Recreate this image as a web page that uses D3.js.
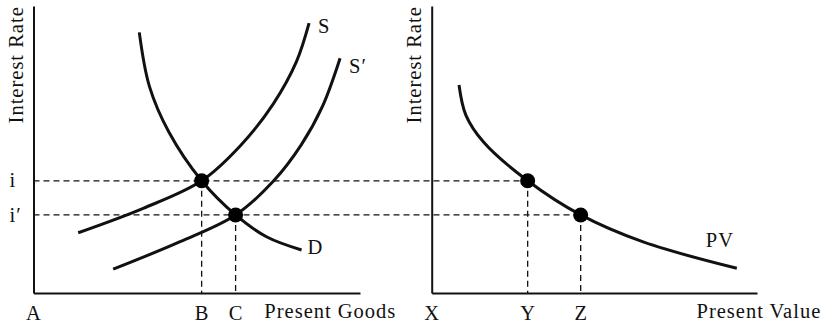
<!DOCTYPE html>
<html>
<head>
<meta charset="utf-8">
<title>Interest rate and present value</title>
<script src="https://cdn.jsdelivr.net/npm/d3@7"></script>
<style>
  body { margin: 0; background: #fff; }
  text { font-family: "Liberation Serif", "Times New Roman", serif; font-size: 20.5px; letter-spacing: 1px; fill: #111; }
</style>
</head>
<body>
<script>
// Rates (share of axis height, 0-100)
var rateI = 39.1;
var rateI2 = 27.2;

// Quantities on the left chart (0-100)
var goodsB = 51.5;
var goodsC = 61.9;

// Quantities on the right chart (0-100)
var valueY = 29.5;
var valueZ = 45.8;

// Curves as [quantity, rate]
var demand = [[32.4, 90.8], [35.5, 72.0], [41.5, 56.0], [51.5, 39.1], [61.9, 27.2], [71.5, 19.5], [82.1, 15.0]];
var supply = [[13.7, 21.0], [33.6, 29.5], [51.5, 39.1], [63.5, 51.5], [73.5, 66.0], [80.5, 80.5], [84.4, 94.0]];
var supply2 = [[24.4, 8.3], [44.9, 17.9], [61.9, 27.2], [73.5, 39.0], [82.0, 51.6], [88.5, 65.0], [93.9, 81.8]];
var presentValue = [[8.4, 72.5], [10.5, 62.0], [16.0, 52.5], [29.5, 39.1], [45.8, 27.2], [65.0, 17.8], [93.8, 8.6]];

var leftTicks = ["A", "B", "C"];
var rightTicks = ["X", "Y", "Z"];
var rateTicks = ["i", "i\u2032"];

var w = 829;
var h = 327;

var svg = d3.select("body").append("svg")
    .attr("width", w)
    .attr("height", h);

var xL = d3.scaleLinear().domain([0, 100]).range([33.5, 360]);
var xR = d3.scaleLinear().domain([0, 100]).range([431.7, 757]);
var y = d3.scaleLinear().domain([0, 100]).range([293, 6]);

// dashed guide lines, drawn first so the curves sit on top
var dash = svg.append("g")
    .attr("fill", "none")
    .attr("stroke", "#111")
    .attr("stroke-width", 1.3)
    .attr("stroke-dasharray", "6,4");

dash.append("line").attr("x1", xL(0)).attr("x2", xR(valueY)).attr("y1", y(rateI)).attr("y2", y(rateI));
dash.append("line").attr("x1", xL(0)).attr("x2", xR(valueZ)).attr("y1", y(rateI2)).attr("y2", y(rateI2));
dash.append("line").attr("x1", xL(goodsB)).attr("x2", xL(goodsB)).attr("y1", y(rateI)).attr("y2", y(0));
dash.append("line").attr("x1", xL(goodsC)).attr("x2", xL(goodsC)).attr("y1", y(rateI2)).attr("y2", y(0));
dash.append("line").attr("x1", xR(valueY)).attr("x2", xR(valueY)).attr("y1", y(rateI)).attr("y2", y(0));
dash.append("line").attr("x1", xR(valueZ)).attr("x2", xR(valueZ)).attr("y1", y(rateI2)).attr("y2", y(0));

// axes
function styleAxis(g) {
  g.select(".domain").attr("stroke", "#111").attr("stroke-width", 2);
  g.selectAll(".tick line").remove();
  g.selectAll(".tick text").attr("font-family", null).attr("font-size", null);
}

svg.append("g")
    .attr("transform", "translate(0," + y(0) + ")")
    .call(d3.axisBottom(xL).tickValues([0, goodsB, goodsC]).tickSize(0).tickSizeOuter(0)
      .tickPadding(12).tickFormat((d, i) => leftTicks[i]))
    .call(styleAxis);

svg.append("g")
    .attr("transform", "translate(0," + y(0) + ")")
    .call(d3.axisBottom(xR).tickValues([0, valueY, valueZ]).tickSize(0).tickSizeOuter(0)
      .tickPadding(12).tickFormat((d, i) => rightTicks[i]))
    .call(styleAxis);

svg.append("g")
    .attr("transform", "translate(" + xL(0) + ",0)")
    .call(d3.axisLeft(y).tickValues([rateI, rateI2]).tickSize(0).tickSizeOuter(0)
      .tickFormat((d, i) => rateTicks[i]))
    .call(styleAxis)
    .selectAll(".tick text")
    .attr("text-anchor", "start")
    .attr("x", -24)
    .attr("dy", "0.3em");

svg.append("g")
    .attr("transform", "translate(" + xR(0) + ",0)")
    .call(d3.axisLeft(y).tickValues([]).tickSizeOuter(0))
    .call(styleAxis);

// axis titles
svg.append("text").attr("x", xL(70.7)).attr("y", y(0) + 25).text("Present Goods");
svg.append("text").attr("x", xR(81.4)).attr("y", y(0) + 25).text("Present Value");
svg.append("text")
    .attr("transform", "translate(" + (xL(0) - 11) + "," + y(79.5) + ") rotate(-90)")
    .attr("text-anchor", "middle")
    .text("Interest Rate");
svg.append("text")
    .attr("transform", "translate(" + (xR(0) - 11) + "," + y(79.5) + ") rotate(-90)")
    .attr("text-anchor", "middle")
    .text("Interest Rate");

// curves
var lineL = d3.line().x(d => xL(d[0])).y(d => y(d[1])).curve(d3.curveCatmullRom.alpha(0.5));
var lineR = d3.line().x(d => xR(d[0])).y(d => y(d[1])).curve(d3.curveCatmullRom.alpha(0.5));

var curves = [
  {pts: demand, line: lineL, x: xL, label: "D", dx: 6, dy: 4},
  {pts: supply, line: lineL, x: xL, label: "S", dx: 9, dy: 10},
  {pts: supply2, line: lineL, x: xL, label: "S\u2032", dx: 9, dy: 15},
  {pts: presentValue, line: lineR, x: xR, label: "PV", dx: -31, dy: -21}
];

curves.forEach(function(c) {
  svg.append("path")
      .attr("d", c.line(c.pts))
      .attr("fill", "none")
      .attr("stroke", "#111")
      .attr("stroke-width", 3);
  var last = c.pts[c.pts.length - 1];
  svg.append("text")
      .attr("x", c.x(last[0]) + c.dx)
      .attr("y", y(last[1]) + c.dy)
      .text(c.label);
});

// equilibrium points
var dots = [[xL, goodsB, rateI], [xL, goodsC, rateI2], [xR, valueY, rateI], [xR, valueZ, rateI2]];
svg.selectAll(".dot").data(dots).enter().append("circle")
    .attr("class", "dot")
    .attr("cx", d => d[0](d[1]))
    .attr("cy", d => y(d[2]))
    .attr("r", 7.5)
    .attr("fill", "#000");
</script>
</body>
</html>
